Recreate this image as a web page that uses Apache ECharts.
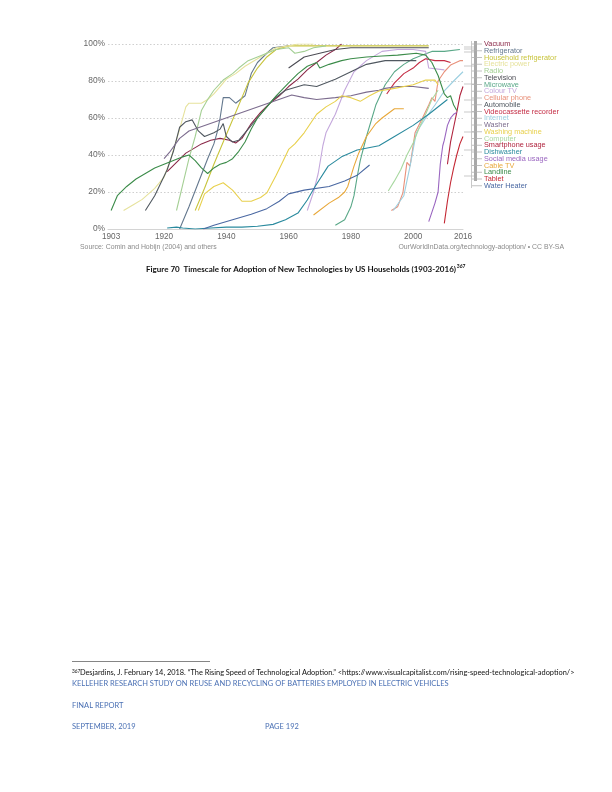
<!DOCTYPE html>
<html>
<head>
<meta charset="utf-8">
<script src="https://cdn.jsdelivr.net/npm/echarts@6/dist/echarts.min.js"></script>
<style>
html,body{margin:0;padding:0;background:#fff;}
#c{width:612px;height:792px;}
</style>
</head>
<body>
<div id="c"></div>
<script>
// ---- Data (year, % of US households) ----
const xTickLabels = [1903, 1920, 1940, 1960, 1980, 2000, 2016];
const yTickLabels = [0, 20, 40, 60, 80, 100];

const vacuum = [[1921,31],[1924,36],[1927,41],[1930,44],[1932,46],[1935,48],[1938,49],[1941,48],[1943,46.5],[1945,49],[1948,57],[1951,63],[1954,68],[1957,72],[1960,77],[1963,81],[1966,86],[1969,90],[1972,94],[1975,97],[1977,100]];
const refrigerator = [[1925,0],[1928,12],[1931,25],[1934,38],[1936,46],[1937,52],[1938,60],[1939,71],[1941,71],[1943,68],[1946,72],[1948,84],[1950,90],[1953,95],[1955,98],[1960,99]];
const householdRefrigerator = [[1930,10],[1933,22],[1936,35],[1939,47],[1941,55],[1943,63],[1945,71],[1947,79],[1950,87],[1953,93],[1956,97],[1960,99],[1970,99],[1980,99],[1990,99],[2000,99],[2005,99]];
const electricPower = [[1907,10],[1910,13],[1913,16],[1917,22],[1920,28],[1922,37],[1925,54],[1927,66],[1928,68],[1932,68],[1934,70],[1936,73],[1938,77],[1940,81],[1943,84],[1946,88],[1950,92],[1953,95],[1956,98],[1960,99],[1963,100],[1968,100]];
const radio = [[1924,10],[1926,24],[1928,38],[1930,50],[1932,64],[1934,70],[1936,75],[1939,80.5],[1942,84],[1944,87],[1947,91],[1950,93],[1953,95],[1956,97],[1960,98],[1962,95],[1965,96],[1968,98],[1972,99]];
const television = [[1960,87],[1965,93],[1970,95],[1975,97],[1980,98],[1990,98],[2000,98],[2005,98]];
const microwave = [[1975,2],[1978,5],[1980,12],[1981,18],[1982,28],[1983,37],[1985,50],[1988,67],[1991,78],[1994,85],[1997,89],[2000,92],[2003,94],[2006,96],[2010,96],[2015,97]];
const colourTV = [[1966,10],[1968,20],[1969.5,30],[1971,45],[1972,52],[1975,62],[1978,75],[1981,85],[1985,91],[1990,96],[1995,97],[2000,97],[2004,96],[2005,87],[2010,86]];
const cellularPhone = [[1993,10],[1995,12],[1996.7,19.5],[1998,36],[1999,34],[2000.6,52],[2003,60],[2005,67],[2006,71],[2007,69],[2008,80],[2010,85],[2012,88.6],[2015,91],[2016,91]];
const automobile = [[1914,10],[1917,18],[1919,25],[1921,32],[1923,42],[1925,55],[1927,58],[1929,59],[1931,53],[1933,50],[1936,52],[1938,54],[1939,57],[1940,50],[1942,47],[1944,48],[1946,52],[1950,60],[1955,70],[1959,75],[1965,78],[1969,77],[1975,81],[1980,85],[1985,89],[1991,91],[1996,91],[2001,91]];
const vcr = [[1991.5,73],[1994,79],[1997,84],[2000,87],[2002,90],[2004,92],[2007,91],[2010,91],[2012,90]];
const internet = [[1993.6,10],[1997,18],[1999,34],[2001,52],[2004,60],[2007,67],[2010,74.6],[2013,80],[2016,85]];
const washer = [[1920,38],[1922,42],[1925,49],[1928,53],[1961,72.4],[1965,71],[1969,70],[1975,71],[1980,72],[1985,74],[1989,75],[1991,76],[1995,77],[2000,77],[2005,76]];
const washingMachine = [[1931,10],[1933,19],[1936,23],[1939,25],[1942,21],[1945,15],[1948,15],[1951,17],[1953,19.5],[1956,29],[1958,36],[1960,43],[1962,46],[1965,52],[1967,57],[1969,62],[1972,66],[1975,69],[1977,72],[1980,71],[1983,69],[1986,72],[1989,74.6],[1994,76],[2000,78],[2004,80.5],[2007,80.5],[2008,78]];
const computer = [[1992,20.5],[1994,26],[1996,32],[1998,40],[2000,46.5],[2002,55],[2004,62],[2006,70],[2008,75]];
const smartphone = [[2011,35],[2012,47],[2013,55],[2014,63],[2015,72],[2016,77]];
const dishwasher = [[1921,0.5],[1924,1],[1926,0.5],[1930,0],[1935,0.5],[1940,1],[1945,1],[1950,1.5],[1955,2.5],[1959,5],[1963,8.6],[1966,15.7],[1968.5,23],[1972.7,34],[1977,39],[1982,42.7],[1989,45],[1994,50],[2000,56],[2005,62],[2011,70]];
const socialMedia = [[2005,4],[2006,9],[2007,14],[2008,20],[2008.7,35],[2009.5,45],[2010,48],[2011,56],[2012,60],[2013,62],[2014,63]];
const cableTV = [[1968,7.6],[1973,14],[1976,17],[1978,20],[1979,23],[1981,34],[1982.5,41],[1985,50],[1988,57],[1990,60],[1994,65],[1997,65]];
const landline = [[1903,10],[1905,18],[1908,23],[1911,27],[1914,30],[1917,33],[1920,35],[1923,37],[1926,39],[1928,40],[1930,37],[1932,33],[1934,30],[1936,33],[1938,35],[1940,36],[1942,38],[1944,42],[1946,47],[1948,54],[1950,60],[1953,66],[1956,72],[1960,79],[1963,84],[1966,88],[1969,90],[1970,87],[1973,89],[1977,91],[1980,92],[1985,93],[1990,93.5],[1995,94],[2001,95],[2004,94],[2006,90],[2008,83],[2009,78],[2010,73],[2011,71],[2012,72],[2013,67],[2014,64]];
const tablet = [[2010,3],[2011,15],[2012,25],[2013,33],[2014,40],[2015,46],[2016,50]];
const waterHeater = [[1932.6,0],[1936,2],[1942,5],[1948,8],[1953,11],[1957,15],[1960,19],[1965,21],[1973,23],[1978,26],[1982,29],[1986,34.6]];

const seriesNames = ['Vacuum','Refrigerator','Household refrigerator','Electric power','Radio','Television','Microwave','Colour TV','Cellular phone','Automobile','Videocassette recorder','Internet','Washer','Washing machine','Computer','Smartphone usage','Dishwasher','Social media usage','Cable TV','Landline','Tablet','Water Heater'];
const seriesValues = [vacuum, refrigerator, householdRefrigerator, electricPower, radio, television, microwave, colourTV, cellularPhone, automobile, vcr, internet, washer, washingMachine, computer, smartphone, dishwasher, socialMedia, cableTV, landline, tablet, waterHeater];
const seriesColors = ['#8a2848','#64788e','#c8c43c','#e6e29c','#a4cf94','#4c4c54','#5aa888','#c4a8dc','#e8907a','#505860','#c42c44','#9ccfe0','#7c6c8e','#e8d04c','#a8d8a0','#b0243e','#2a8a9e','#9a66c0','#e8a83a','#3c8c4a','#c42834','#4a68a2'];

const sourceLeft = 'Source: Comin and Hobijn (2004) and others';
const sourceRight = 'OurWorldInData.org/technology-adoption/ \u2022 CC BY-SA';
const caption = 'Figure 70  Timescale for Adoption of New Technologies by US Households (1903-2016)';
const captionSup = '367';
const footnote = ' Desjardins, J. February 14, 2018. \u201CThe Rising Speed of Technological Adoption.\u201D <https://www.visualcapitalist.com/rising-speed-technological-adoption/>';
const footerLines = ['KELLEHER RESEARCH STUDY ON REUSE AND RECYCLING OF BATTERIES EMPLOYED IN ELECTRIC VEHICLES','FINAL REPORT','SEPTEMBER, 2019','PAGE 192'];

// ---- Chart ----
const chart = echarts.init(document.getElementById('c'), null, {renderer:'canvas'});
const series = seriesNames.map((n,i)=>({
  name:n, type:'line', data:seriesValues[i], symbol:'none', smooth:false,
  lineStyle:{width:1.1, color:seriesColors[i]}, itemStyle:{color:seriesColors[i]},
  z: 2, silent:true
}));

const mctx = document.createElement('canvas').getContext('2d');
const capFont = 'bold 8px Lato, "Open Sans", sans-serif';
mctx.font = capFont;
const capW = mctx.measureText(caption).width;
const capLeft = 305 - (capW + 8) / 2;

const graphics = [];
// legend bracket
graphics.push({type:'rect', shape:{x:474, y:41, width:3, height:140}, style:{fill:'#a8a8a8'}});
graphics.push({type:'line', shape:{x1:471.5, y1:41, x2:471.5, y2:188}, style:{stroke:'#c8c8c8', lineWidth:1}});
seriesNames.forEach((n,i)=>{
  const y = 44 + i*6.75;
  graphics.push({type:'line', shape:{x1:472, y1:y, x2:482, y2:y}, style:{stroke:'#b0b0b0', lineWidth:0.8}});
  graphics.push({type:'text', x:484, y:y, style:{text:n, fill:seriesColors[i], font:'7.3px "Liberation Sans", Arial, sans-serif', textVerticalAlign:'middle', textAlign:'left'}});
});
[47,49,52,66,84,100,112,132,150,176].forEach(y=>{
  graphics.push({type:'line', shape:{x1:464, y1:y, x2:474, y2:y}, style:{stroke:'#bbbbbb', lineWidth:0.8}});
});
// source lines
graphics.push({type:'text', x:80, y:247.5, style:{text:sourceLeft, fill:'#8a8a8a', font:'6.9px "Liberation Sans", Arial, sans-serif', textVerticalAlign:'middle'}});
graphics.push({type:'text', x:564, y:247.5, style:{text:sourceRight, fill:'#8a8a8a', font:'6.9px "Liberation Sans", Arial, sans-serif', textVerticalAlign:'middle', textAlign:'right'}});
// caption
graphics.push({type:'text', x:capLeft, y:269, style:{text:caption, fill:'#111', font:capFont, textVerticalAlign:'middle', textAlign:'left'}});
graphics.push({type:'text', x:capLeft + capW + 0.8, y:266.5, style:{text:captionSup, fill:'#111', font:'bold 5px Lato, sans-serif', textVerticalAlign:'middle', textAlign:'left'}});
// footnote separator & text
graphics.push({type:'line', shape:{x1:72, y1:661.5, x2:210, y2:661.5}, style:{stroke:'#666', lineWidth:0.8}});
graphics.push({type:'text', x:72, y:671, style:{text:'367', fill:'#111', font:'4.8px Lato, sans-serif', textVerticalAlign:'middle'}});
graphics.push({type:'text', x:78, y:673, style:{text:footnote, fill:'#111', font:'7.4px Lato, sans-serif', textVerticalAlign:'middle'}});
graphics.push({type:'text', x:72, y:683.5, style:{text:footerLines[0], fill:'#4a70b4', font:'7.5px Lato, sans-serif', textVerticalAlign:'middle'}});
graphics.push({type:'text', x:72, y:705.5, style:{text:footerLines[1], fill:'#4a70b4', font:'7.5px Lato, sans-serif', textVerticalAlign:'middle'}});
graphics.push({type:'text', x:72, y:727, style:{text:footerLines[2], fill:'#4a70b4', font:'7.5px Lato, sans-serif', textVerticalAlign:'middle'}});
graphics.push({type:'text', x:265, y:727, style:{text:footerLines[3], fill:'#4a70b4', font:'7.5px Lato, sans-serif', textVerticalAlign:'middle'}});

chart.setOption({
  animation:false,
  backgroundColor:'#fff',
  grid:{left:108, right:149, top:44, bottom:563, containLabel:false},
  xAxis:{type:'value', min:1902, max:2016,
    axisLine:{show:true, lineStyle:{color:'#d4d4d4', width:1}},
    axisTick:{show:false},
    splitLine:{show:false},
    axisLabel:{customValues:xTickLabels, showMinLabel:true, showMaxLabel:true, color:'#666', fontSize:8.2, fontFamily:'"Liberation Sans", Arial, sans-serif', margin:4, formatter:v=>String(v)}
  },
  yAxis:{type:'value', min:0, max:100, interval:20,
    axisLine:{show:false}, axisTick:{show:false},
    splitLine:{show:true, lineStyle:{color:'#cfcfcf', type:[1.5,2], width:1}},
    axisLabel:{color:'#666', fontSize:8.4, fontFamily:'"Liberation Sans", Arial, sans-serif', margin:3, formatter:v=>v+'%'}
  },
  series:series,
  graphic:graphics
});
</script>
</body>
</html>
